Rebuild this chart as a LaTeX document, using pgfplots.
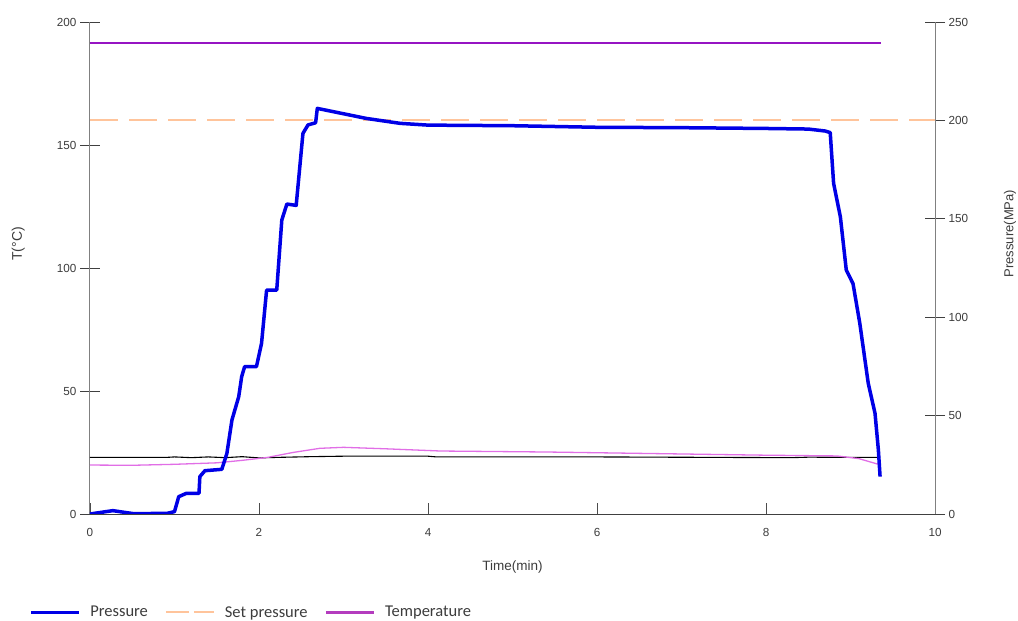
\documentclass[border=0pt]{standalone}
\usepackage{fontspec}
\setmainfont{Liberation Sans}
\newfontfamily\legendfont{Carlito}
\usepackage{pgfplots}
\pgfplotsset{compat=1.18}
\definecolor{presblue}{RGB}{0,0,230}
\definecolor{setorange}{RGB}{255,196,155}
\definecolor{toppurple}{RGB}{150,20,195}
\definecolor{tempmag}{RGB}{225,110,230}
\definecolor{legpurple}{RGB}{180,60,190}
\definecolor{txtgray}{RGB}{60,60,60}
\begin{document}
\begin{tikzpicture}
\pgfplotsset{
  base/.style={
    at={(90pt,107pt)}, anchor=south west,
    scale only axis, width=845pt, height=492pt,
    xmin=0, xmax=10,
    tick label style={font=\fontsize{11.7}{14}\selectfont, text=txtgray},
    /pgf/number format/assume math mode=true,
    scaled ticks=false,
    every outer x axis line/.append style={-},
    every outer y axis line/.append style={-},
    every inner x axis line/.append style={-},
    every inner y axis line/.append style={-},
  },
}
% x axis
\begin{axis}[base,
  ymin=0, ymax=200,
  axis x line*=bottom, axis y line=none,
  x axis line style={-, draw=black!75, line width=0.8pt},
  xtick={0,2,4,6,8,10},
  tick align=inside, major tick length=11pt,
  xtick style={draw=black!70, line width=0.8pt},
  xticklabel style={yshift=-11pt},
  xlabel={Time(min)},
  xlabel style={font=\fontsize{13.5}{15}\selectfont, text=txtgray, yshift=-17pt},
]
\addplot[draw=none, forget plot] coordinates {(0,0) (10,0)};
\end{axis}
% left axis: temperature
\begin{axis}[base,
  ymin=0, ymax=200,
  axis x line=none, axis y line*=left,
  y axis line style={-, draw=gray, line width=1pt},
  ytick={0,50,100,150,200},
  tick align=center, major tick length=20pt,
  ytick style={draw=black!75, line width=0.8pt},
  ylabel={T(°C)},
  every axis y label/.style={at={(axis description cs:-0.085,0.549)}, rotate=90, anchor=center,
    font=\fontsize{14}{16}\selectfont, text=txtgray},
]
\addplot[toppurple, line width=1.8pt, forget plot] coordinates {(0,191.5) (9.36,191.5)};
\addplot[black, line width=1.1pt, forget plot] coordinates {
(0,23.0) (0.9,23.0) (1.0,23.2) (1.2,22.9) (1.4,23.2) (1.6,22.9) (1.8,23.3) (2.0,22.8) (2.2,23.0)
(2.6,23.3) (3.0,23.5) (4.0,23.5) (4.1,23.2) (6.0,23.2) (7.5,23.0) (8.3,22.9) (8.5,23.1) (9.35,23.0)};
\addplot[tempmag, line width=1.3pt, forget plot] coordinates {
(0,19.9) (0.5,19.8) (1.0,20.2) (1.5,20.8) (1.8,21.8) (2.1,23.0) (2.4,25.0) (2.72,26.7) (3.0,27.1)
(3.5,26.5) (4.15,25.6) (5.4,25.2) (7.0,24.4) (8.0,23.9) (8.84,23.6) (9.1,22.5) (9.33,20.2)};
\end{axis}
% right axis: pressure
\begin{axis}[base,
  ymin=0, ymax=250,
  axis x line=none, axis y line*=right,
  y axis line style={-, draw=gray, line width=1pt},
  ytick={0,50,100,150,200,250},
  tick align=center, major tick length=20pt,
  ytick style={draw=black!75, line width=0.8pt},
  ylabel={Pressure(MPa)},
  every axis y label/.style={at={(axis description cs:1.0888,0.57)}, rotate=90, anchor=center,
    font=\fontsize{13}{15}\selectfont, text=txtgray},
  legend columns=3,
  legend style={draw=none, fill=none, at={(axis description cs:-0.075,-0.2)}, anchor=west,
    font=\legendfont\fontsize{16.5}{18}\selectfont, text=txtgray,
    nodes={inner sep=0pt},
    /tikz/every odd column/.append style={column sep=10pt},
    /tikz/every even column/.append style={column sep=17pt}},
  legend image code/.code={\draw[#1] (0pt,0pt) -- (48pt,0pt);},
]
\addplot[setorange, line width=1.8pt, dash pattern=on 28pt off 11pt, forget plot] coordinates {(0,200) (10,200)};
\addplot[presblue, line width=3.5pt, line join=round, forget plot] coordinates {
(0,0) (0.27,1.7) (0.51,0.2) (0.91,0.3) (1.0,1.2) (1.05,8.8) (1.14,10.5) (1.29,10.5) (1.30,19)
(1.36,22) (1.56,22.7) (1.62,30.8) (1.68,47.8) (1.76,59.6) (1.795,69.8) (1.83,74.9) (1.97,74.9)
(2.03,86.7) (2.09,113.8) (2.21,113.8) (2.27,149.4) (2.33,157.5) (2.44,156.8) (2.52,193.4)
(2.58,197.7) (2.67,198.8) (2.69,206.1) (3.27,201) (3.67,198.5) (4.0,197.6) (5.0,197.3)
(6.0,196.5) (7.0,196.3) (8.0,195.9) (8.5,195.6) (8.7,194.6) (8.76,193.8) (8.80,168) (8.88,151)
(8.95,124) (9.03,117) (9.11,96.9) (9.21,66.4) (9.29,51.2) (9.33,32.5) (9.35,19)};
\addlegendimage{presblue, line width=2.5pt}
\addlegendentry{Pressure}
\addlegendimage{setorange, line width=2pt, dash pattern=on 23pt off 5pt}
\addlegendentry{Set pressure}
\addlegendimage{legpurple, line width=2.5pt}
\addlegendentry{Temperature}
\end{axis}
\pgfresetboundingbox
\useasboundingbox (0pt,0pt) rectangle (1018pt,621pt);
\end{tikzpicture}
\end{document}
